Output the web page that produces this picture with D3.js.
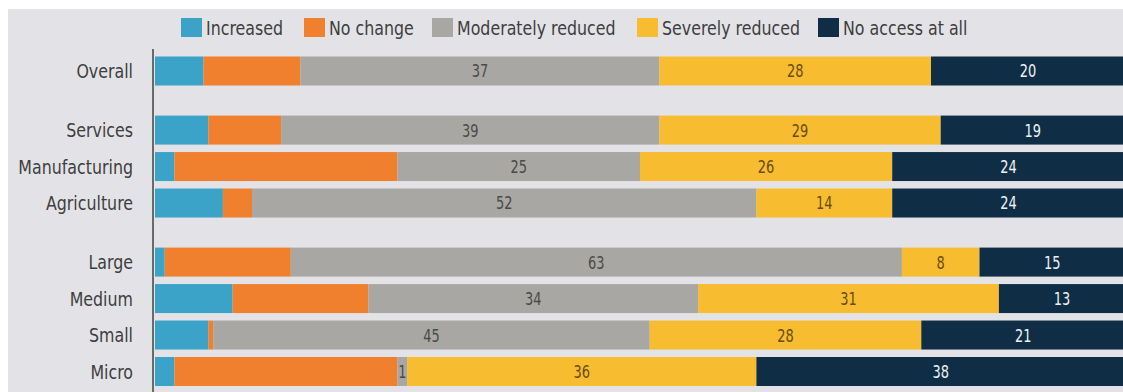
<!DOCTYPE html>
<html>
<head>
<meta charset="utf-8">
<script src="https://cdn.jsdelivr.net/npm/d3@7"></script>
<style>
  html, body { margin: 0; padding: 0; background: #ffffff; }
  svg { display: block; }
  text { font-family: "DejaVu Sans Condensed", "Liberation Sans Narrow", sans-serif; }
</style>
</head>
<body>
<svg id="chart" width="1123" height="392"></svg>
<script>
// Share of firms by change in access, per sector and firm size (%)
const seriesNames = ["Increased", "No change", "Moderately reduced", "Severely reduced", "No access at all"];
const seriesColors = ["#3ba3c8", "#f07f2e", "#a9a7a3", "#f7bc30", "#0f2e45"];
const labelColors = [null, null, "#4a4a48", "#6a4c10", "#eef2f6"];

// categories, grouped: overall, sectors, firm sizes
const groups = [
  ["Overall"],
  ["Services", "Manufacturing", "Agriculture"],
  ["Large", "Medium", "Small", "Micro"]
];

const increased   = [5,   5.5, 2,  7,  1,  8,  5.5, 2];
const noChange    = [10,  7.5, 23, 3,  13, 14, 0.5, 23];
const modReduced  = [37,  39,  25, 52, 63, 34, 45,  1];
const sevReduced  = [28,  29,  26, 14, 8,  31, 28,  36];
const noAccess    = [20,  19,  24, 24, 15, 13, 21,  38];

// which series carry a value label
const labelled = [false, false, true, true, true];

const W = 1123, H = 392;
const svg = d3.select("#chart");

// squeeze text horizontally to get a narrow, tall face
function condense(sel, factor) {
  sel.each(function () {
    const len = this.getComputedTextLength();
    d3.select(this)
      .attr("textLength", len * factor)
      .attr("lengthAdjust", "spacingAndGlyphs");
  });
}

// panel background
svg.append("rect")
  .attr("x", 8).attr("y", 9)
  .attr("width", W - 8).attr("height", H - 9)
  .attr("fill", "#e3e3e7");

const categories = groups.flat();
const groupOf = [];
groups.forEach((g, gi) => g.forEach(() => groupOf.push(gi)));

const rows = categories.map((c, i) => ({
  name: c,
  slot: i + groupOf[i] * 0.62,
  values: [increased[i], noChange[i], modReduced[i], sevReduced[i], noAccess[i]]
}));

const x = d3.scaleLinear().domain([0, 100]).range([155, 1125]);
const lastSlot = d3.max(rows, r => r.slot);
const y = d3.scaleLinear().domain([0, lastSlot]).range([71, 371.5]);
const barH = 29;

const stacked = rows.map(r => {
  let acc = 0;
  return r.values.map((v, k) => {
    const seg = { row: r, k, v, x0: acc, x1: acc + v };
    acc += v;
    return seg;
  });
});

const rowG = svg.selectAll("g.row")
  .data(stacked)
  .join("g")
  .attr("class", "row");

rowG.selectAll("rect")
  .data(d => d)
  .join("rect")
  .attr("x", d => x(d.x0))
  .attr("y", d => y(d.row.slot) - barH / 2)
  .attr("width", d => x(d.x1) - x(d.x0))
  .attr("height", barH)
  .attr("fill", d => seriesColors[d.k]);

rowG.selectAll("text.val")
  .data(d => d.filter(s => labelled[s.k]))
  .join("text")
  .attr("class", "val")
  .attr("x", d => (x(d.x0) + x(d.x1)) / 2)
  .attr("y", d => y(d.row.slot))
  .attr("dy", "0.36em")
  .attr("text-anchor", "middle")
  .attr("font-size", 18)
  .attr("fill", d => labelColors[d.k])
  .text(d => d3.format("d")(d.v))
  .call(condense, 0.8);

// category axis
const axisG = svg.append("g");
axisG.append("line")
  .attr("x1", 153).attr("x2", 153)
  .attr("y1", 49).attr("y2", H)
  .attr("stroke", "#6a6a6a").attr("stroke-width", 2);

axisG.selectAll("text.cat")
  .data(rows)
  .join("text")
  .attr("class", "cat")
  .attr("x", 133)
  .attr("y", d => y(d.slot))
  .attr("dy", "0.36em")
  .attr("text-anchor", "end")
  .attr("font-size", 20)
  .attr("fill", "#3e3e3e")
  .text(d => d.name)
  .call(condense, 0.88);

// legend
const legendX = [181, 304, 432, 637, 818];
const legend = svg.append("g")
  .selectAll("g")
  .data(seriesNames)
  .join("g")
  .attr("transform", (d, i) => `translate(${legendX[i]},18)`);

legend.append("rect")
  .attr("width", 21).attr("height", 19)
  .attr("fill", (d, i) => seriesColors[i]);

legend.append("text")
  .attr("x", 25)
  .attr("y", 10)
  .attr("dy", "0.36em")
  .attr("font-size", 20)
  .attr("fill", "#3e3e3e")
  .text(d => d)
  .call(condense, 0.88);
</script>
</body>
</html>
